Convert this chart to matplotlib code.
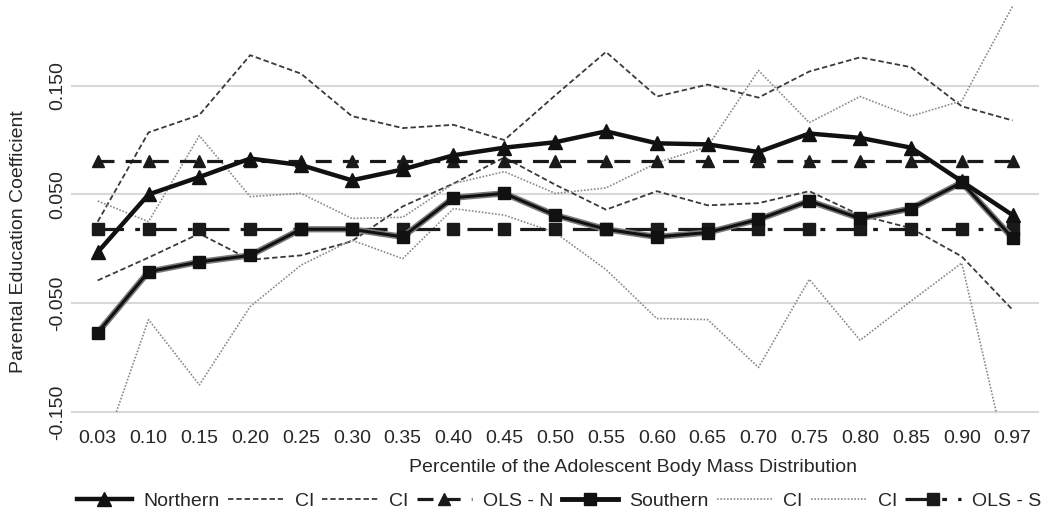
import matplotlib
matplotlib.use("Agg")
import matplotlib.pyplot as plt
from matplotlib.lines import Line2D

plt.rcParams['font.family'] = ['Liberation Sans', 'DejaVu Sans']

categories = ["0.03", "0.10", "0.15", "0.20", "0.25", "0.30", "0.35", "0.40", "0.45", "0.50",
              "0.55", "0.60", "0.65", "0.70", "0.75", "0.80", "0.85", "0.90", "0.97"]
north = [-0.003, 0.050, 0.066, 0.083, 0.077, 0.063, 0.073, 0.086, 0.093, 0.098,
         0.108, 0.097, 0.096, 0.089, 0.106, 0.102, 0.093, 0.062, 0.031]
north_hi = [0.025, 0.107, 0.123, 0.178, 0.161, 0.122, 0.111, 0.114, 0.100, 0.141,
            0.181, 0.140, 0.151, 0.139, 0.163, 0.176, 0.167, 0.131, 0.118]
north_lo = [-0.029, -0.008, 0.014, -0.010, -0.006, 0.007, 0.039, 0.060, 0.084, 0.059,
            0.036, 0.053, 0.040, 0.042, 0.053, 0.031, 0.019, -0.007, -0.056]
south = [-0.077, -0.021, -0.012, -0.006, 0.018, 0.018, 0.011, 0.047, 0.051, 0.031,
         0.018, 0.011, 0.015, 0.027, 0.044, 0.028, 0.037, 0.061, 0.010]
south_hi = [0.044, 0.025, 0.104, 0.048, 0.051, 0.028, 0.029, 0.060, 0.071, 0.051,
            0.056, 0.079, 0.094, 0.164, 0.116, 0.140, 0.122, 0.136, 0.223]
south_lo = [-0.199, -0.065, -0.125, -0.053, -0.015, 0.008, -0.009, 0.037, 0.031, 0.015,
            -0.019, -0.064, -0.065, -0.109, -0.028, -0.084, -0.048, -0.013, -0.215]
ols_n = [0.081] * 19
ols_s = [0.018] * 19
yticks = [-0.150, -0.050, 0.050, 0.150]
ytick_labels = ["-0.150", "-0.050", "0.050", "0.150"]

W, H = 1050, 521
fig = plt.figure(figsize=(W / 100, H / 100), dpi=100)
left, right = 72.3 / W, 1038 / W
bottom = 1 - 412.3 / H
ax = fig.add_axes([left, bottom, right - left, 412.3 / H])

x = list(range(len(categories)))

for y in yticks:
    ax.axhline(y, color='#d9d9d9', lw=1.5, zorder=0, clip_on=False)

ncol = '#3a3a3a'
scol = '#8a8a8a'
ax.plot(x, north_hi, color=ncol, lw=1.3, dashes=(3, 1.6), zorder=2)
ax.plot(x, north_lo, color=ncol, lw=1.3, dashes=(3, 1.6), zorder=2)
ax.plot(x, south_hi, color=scol, lw=1.2, dashes=(1, 1), zorder=2)
ax.plot(x, south_lo, color=scol, lw=1.2, dashes=(1, 1), zorder=2)

ax.plot(x, ols_n, color='#1a1a1a', lw=2.3, dashes=(5, 3.5), marker='^', ms=9,
        markerfacecolor='#1a1a1a', markeredgecolor='#1a1a1a', zorder=3)
ax.plot(x, ols_s, color='#1a1a1a', lw=2.3, dashes=(8, 3.5, 1.5, 3.5), marker='s', ms=8,
        markerfacecolor='#1a1a1a', markeredgecolor='#1a1a1a', zorder=3)

ax.plot(x, south, color='#7a7a7a', lw=4.5, zorder=4, solid_capstyle='butt')
ax.plot(x, south, color='#111111', lw=2.2, marker='s', ms=8.5,
        markerfacecolor='#111111', markeredgecolor='#111111', zorder=5)
ax.plot(x, north, color='#111111', lw=3.2, marker='^', ms=9.5,
        markerfacecolor='#111111', markeredgecolor='#111111', zorder=6)

ax.set_xlim(-0.5, len(categories) - 0.5)
ax.set_ylim(-0.1502, 0.2287)
ax.set_xticks(x)
ax.set_xticklabels(categories, fontsize=14, color='#262626')
ax.set_yticks(yticks)
ax.set_yticklabels(ytick_labels, fontsize=14, color='#262626', rotation=90, va='center')
ax.tick_params(axis='x', length=0, pad=12.5)
ax.tick_params(axis='y', length=0, pad=4.5)
for s in ax.spines.values():
    s.set_visible(False)

fig.text(19 / W, 1 - 242 / H, "Parental Education Coefficient", rotation=90,
         ha='center', va='center', fontsize=14, color='#262626')
fig.text(633 / W, 1 - 467 / H, "Percentile of the Adolescent Body Mass Distribution",
         ha='center', va='center', fontsize=14, color='#262626')

handles = [
    Line2D([], [], color='#111111', lw=3.2, marker='^', ms=9.5),
    Line2D([], [], color=ncol, lw=1.3, dashes=(3, 1.6)),
    Line2D([], [], color=ncol, lw=1.3, dashes=(3, 1.6)),
    Line2D([], [], color='#1a1a1a', lw=2.3, dashes=(5, 3.5), marker='^', ms=9),
    Line2D([], [], color='#111111', lw=3.5, marker='s', ms=8.5),
    Line2D([], [], color=scol, lw=1.2, dashes=(1, 1)),
    Line2D([], [], color=scol, lw=1.2, dashes=(1, 1)),
    Line2D([], [], color='#1a1a1a', lw=2.3, dashes=(8, 3.5, 1.5, 3.5), marker='s', ms=8),
]
labels = ["Northern", "CI", "CI", "OLS - N", "Southern", "CI", "CI", "OLS - S"]
fig.legend(handles, labels, loc='center', bbox_to_anchor=(559 / W, 1 - 501 / H),
           ncol=8, frameon=False, fontsize=14, handlelength=2.85, handletextpad=0.58,
           columnspacing=0.43, labelcolor='#262626')

fig.savefig("out.png", dpi=100)
